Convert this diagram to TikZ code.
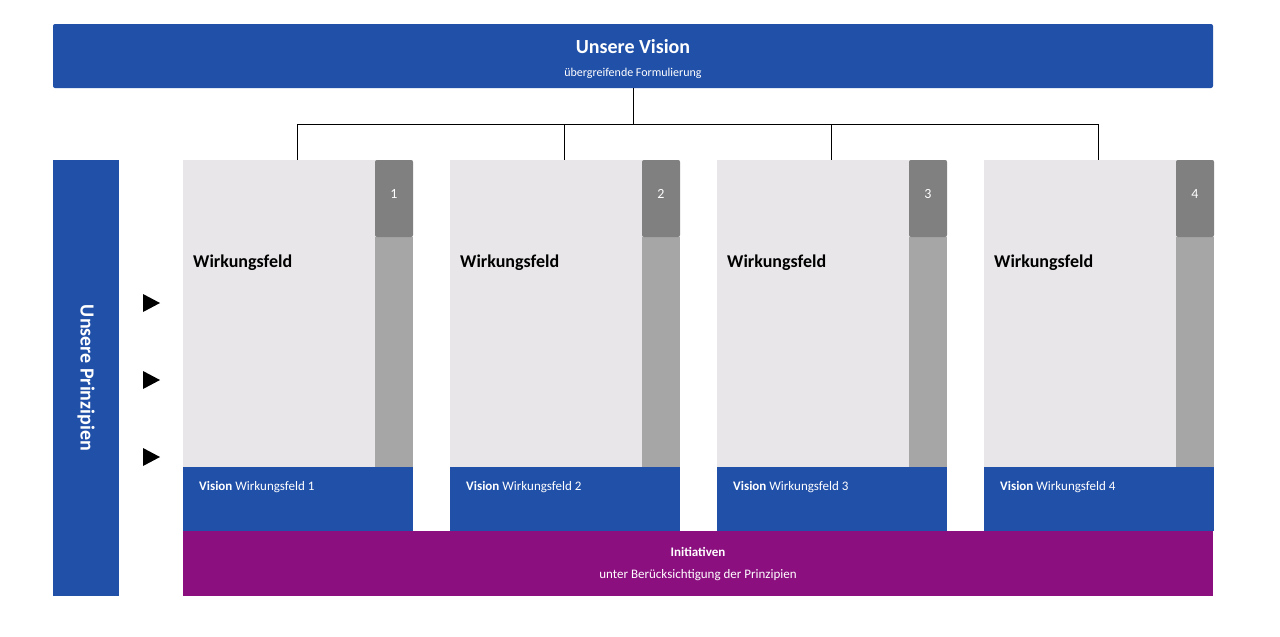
\documentclass[tikz,border=0pt]{standalone}
\usepackage{fontspec}
\setmainfont{Carlito}
\usetikzlibrary{positioning}
\definecolor{visionblue}{HTML}{2150A8}
\definecolor{fieldgrey}{HTML}{E8E6E8}
\definecolor{stripgrey}{HTML}{A6A6A6}
\definecolor{numgrey}{HTML}{808080}
\definecolor{initpurple}{HTML}{8B0F7F}
\tikzset{
  bluebox/.style = {fill = visionblue, draw = none},
  textwhite/.style = {text = white, inner sep = 0pt}
}
\begin{document}
\begin{tikzpicture}[x = 1pt, y = -1pt]
    \useasboundingbox (0, 0) rectangle (1280, 637);
    % vision bar
    \fill[bluebox, rounded corners = 2pt] (53, 24) rectangle (1213, 88);
    \node[textwhite, font = \fontsize{20}{24}\selectfont\bfseries] (vision) at (633, 47) {Unsere Vision};
    \node[textwhite, font = \fontsize{12}{14}\selectfont] (visionsub) at (633, 73) {übergreifende Formulierung};
    \coordinate (root) at (633, 88);
    \coordinate (fork) at (633, 124);
    \draw[thick] (root) -- (fork);
    \draw[thick] (297, 124) -- (1098, 124);

    % principles bar
    \fill[bluebox] (53, 160) rectangle (119, 596);
    \node[textwhite, rotate = -90, font = \fontsize{20}{24}\selectfont\bfseries] (prinz) at (86, 378) {Unsere Prinzipien};
    \foreach \y in {303, 380, 457}
        \fill (143, \y - 9) -- (160, \y) -- (143, \y + 9) -- cycle;

    % fields
    \foreach \i/\x in {1/183, 2/450, 3/717, 4/984} {
        \coordinate (top\i) at (\x + 114, 160);
        \draw[thick] (\x + 114, 124) -- (top\i);
        \fill[fieldgrey] (\x, 160) rectangle (\x + 230, 467);
        \fill[stripgrey] (\x + 192, 237) rectangle (\x + 230, 467);
        \fill[numgrey, rounded corners = 2pt] (\x + 192, 160) rectangle (\x + 230, 237);
        \node[textwhite, font = \fontsize{14}{16}\selectfont] (num\i) at (\x + 211, 194) {\i};
        \node[anchor = west, inner sep = 0pt, font = \fontsize{18}{22}\selectfont\bfseries] (feld\i) at (\x + 10, 263) {Wirkungsfeld};
        \fill[bluebox] (\x, 467) rectangle (\x + 230, 531);
        \node[textwhite, anchor = west, font = \fontsize{13}{16}\selectfont] (fvision\i) at (\x + 16, 487) {\textbf{Vision} Wirkungsfeld \i};
    }

    % initiatives
    \fill[initpurple] (183, 531) rectangle (1213, 596);
    \node[textwhite, font = \fontsize{13}{16}\selectfont\bfseries] (init) at (698, 552) {Initiativen};
    \node[textwhite, font = \fontsize{13}{16}\selectfont] (initsub) at (698, 575) {unter Berücksichtigung der Prinzipien};
\end{tikzpicture}
\end{document}
